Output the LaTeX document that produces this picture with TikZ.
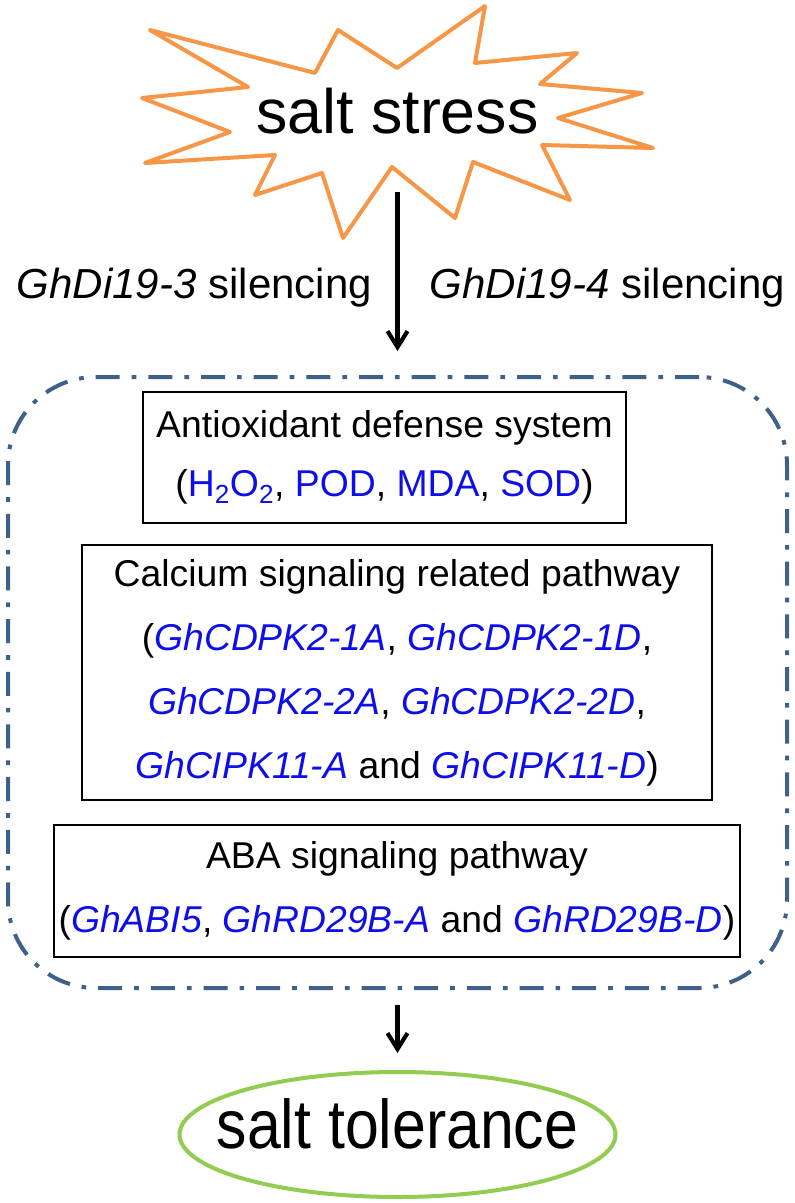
\documentclass[tikz,border=0pt]{standalone}
\usepackage{fontspec}
\setmainfont{Liberation Sans}
\usetikzlibrary{arrows.meta,shapes.geometric,calc,positioning}
\definecolor{starorange}{RGB}{247,150,70}
\definecolor{panelblue}{RGB}{62,96,138}
\definecolor{leafgreen}{RGB}{146,204,80}
\definecolor{geneblue}{RGB}{14,14,235}
\newcommand{\gene}[1]{\textcolor{geneblue}{\textit{#1}}}
\newcommand{\bluetext}[1]{\textcolor{geneblue}{#1}}
\tikzset{every picture/.style={line width=0.75pt}}

\begin{document}
\begin{tikzpicture}[x=0.75pt,y=-0.75pt,
    pathbox/.style={draw,line width=1.9pt,align=center,inner sep=0pt,font=\fontsize{28}{34}\selectfont},
    panelbox/.style={draw=panelblue,line width=3pt,rounded corners=66pt,dash pattern=on 18pt off 9pt on 3.5pt off 9pt},
    arrow/.style={-{Straight Barb[length=12pt,width=15pt]},line width=3.1pt}]
    \useasboundingbox (0,0) rectangle (794,1203);

    % Salt stress burst
    \draw[starorange,line width=3pt,line join=round] (150,30) -- (315,73) -- (338,30) -- (397,68)
        -- (485,6) -- (475,63) -- (577,53) -- (540,84) -- (642,93) -- (558,118) -- (653,148)
        -- (542,145) -- (570,200) -- (473,162) -- (455,218) -- (392,167) -- (343,238)
        -- (322,173) -- (255,195) -- (275,155) -- (145,163) -- (230,132) -- (142,98)
        -- (248,87) -- cycle;
    \node[anchor=base,font=\fontsize{47}{56}\selectfont] (stress) at (397.5,133) {salt stress};

    % Silencing labels
    \node[anchor=base west,font=\fontsize{31.5}{38}\selectfont] (silence3) at (12,298) {\textit{GhDi19-3} silencing};
    \node[anchor=base west,font=\fontsize{31.5}{38}\selectfont] (silence4) at (425,298) {\textit{GhDi19-4} silencing};

    % Dash-dot panel with the three pathways
    \node[panelbox,minimum width=584.25pt,minimum height=458.25pt] (panel) at (397.5,682.5) {};
    \node[pathbox,minimum width=362.25pt,minimum height=98.25pt] (antiox) at (384.5,457.5)
        {Antioxidant defense system\\[10pt]
         (\bluetext{H\textsubscript{2}O\textsubscript{2}}, \bluetext{POD}, \bluetext{MDA}, \bluetext{SOD})};
    \node[pathbox,minimum width=472.5pt,minimum height=191.25pt] (calcium) at (397,672.5)
        {Calcium signaling related pathway\\[14pt]
         (\gene{GhCDPK2-1A}, \gene{GhCDPK2-1D},\\[14pt]
         \gene{GhCDPK2-2A}, \gene{GhCDPK2-2D},\\[14pt]
         \gene{GhCIPK11-A} and \gene{GhCIPK11-D})};
    \node[pathbox,minimum width=514.5pt,minimum height=99pt] (aba) at (397,891)
        {ABA signaling pathway\\[14pt]
         (\gene{GhABI5}, \gene{GhRD29B-A} and \gene{GhRD29B-D})};

    % Outcome
    \node[ellipse,draw=leafgreen,line width=3pt,inner sep=0pt,minimum width=327pt,minimum height=93.75pt] (tolerance) at (397.5,1134.5) {};
    \node[anchor=base,font=\fontsize{47}{56}\selectfont] (toltext) at (397.5,1148) {\scalebox{0.97}[1.1]{salt tolerance}};

    % Arrows
    \draw[arrow] ($(stress.base)+(0,59)$) -- ($(panel.north)+(0,-24)$);
    \draw[arrow] ($(panel.south)+(0,15)$) -- ($(tolerance.north)+(0,-17)$);
\end{tikzpicture}
\end{document}
